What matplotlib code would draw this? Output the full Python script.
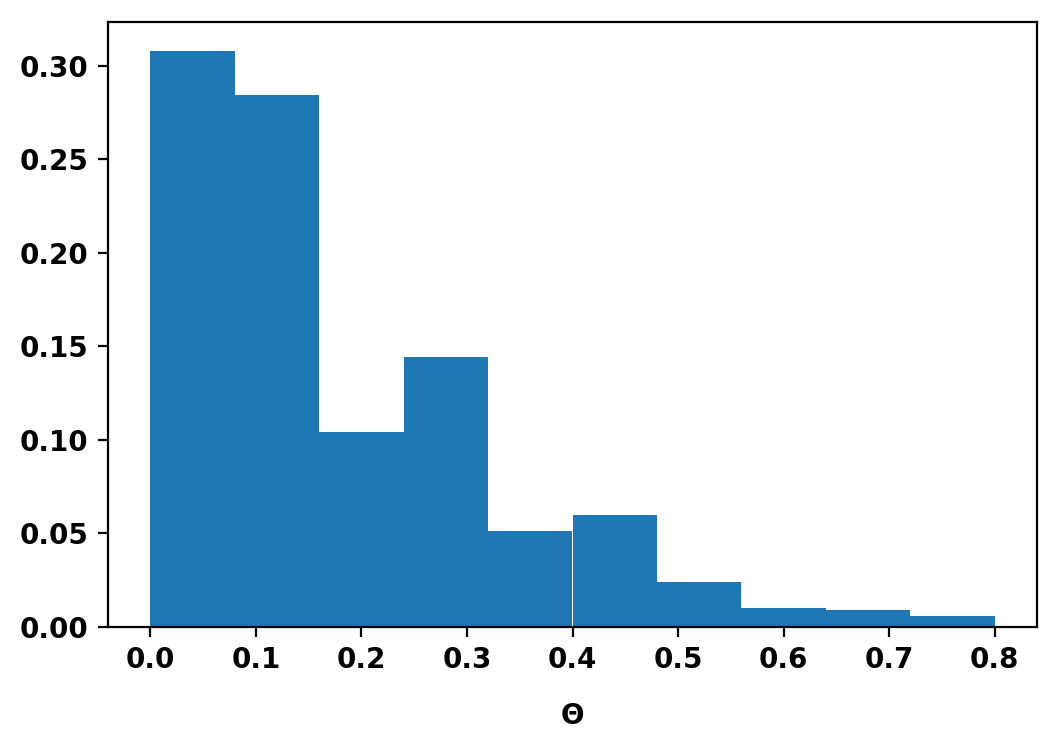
import matplotlib
matplotlib.use("Agg")
import matplotlib.pyplot as plt
import numpy as np

# bin edges and per-bin fraction
bin_edges = [0.0, 0.08, 0.16, 0.24, 0.32, 0.40, 0.48, 0.56, 0.64, 0.72, 0.80]
bin_fraction = [0.308, 0.2845, 0.104, 0.1441, 0.0511, 0.0600, 0.0241, 0.0100, 0.0091, 0.0059]
x_label = "Θ"

plt.rcParams["font.weight"] = "bold"
plt.rcParams["font.size"] = 10

fig = plt.figure(figsize=(1061 / 200, 750 / 200), dpi=200)
ax = fig.add_axes([108 / 1061, 1 - 627 / 750, (1037 - 108) / 1061, (627 - 22) / 750])

centers = (np.array(bin_edges[:-1]) + np.array(bin_edges[1:])) / 2
ax.hist(centers, bins=bin_edges, weights=bin_fraction, color="#1f77b4")

ax.set_xticks(np.arange(0, 0.81, 0.1))
ax.set_yticks(np.arange(0, 0.31, 0.05))
ax.set_xlabel(x_label, fontweight="bold", labelpad=10)

fig.savefig("out.png", dpi=200)
